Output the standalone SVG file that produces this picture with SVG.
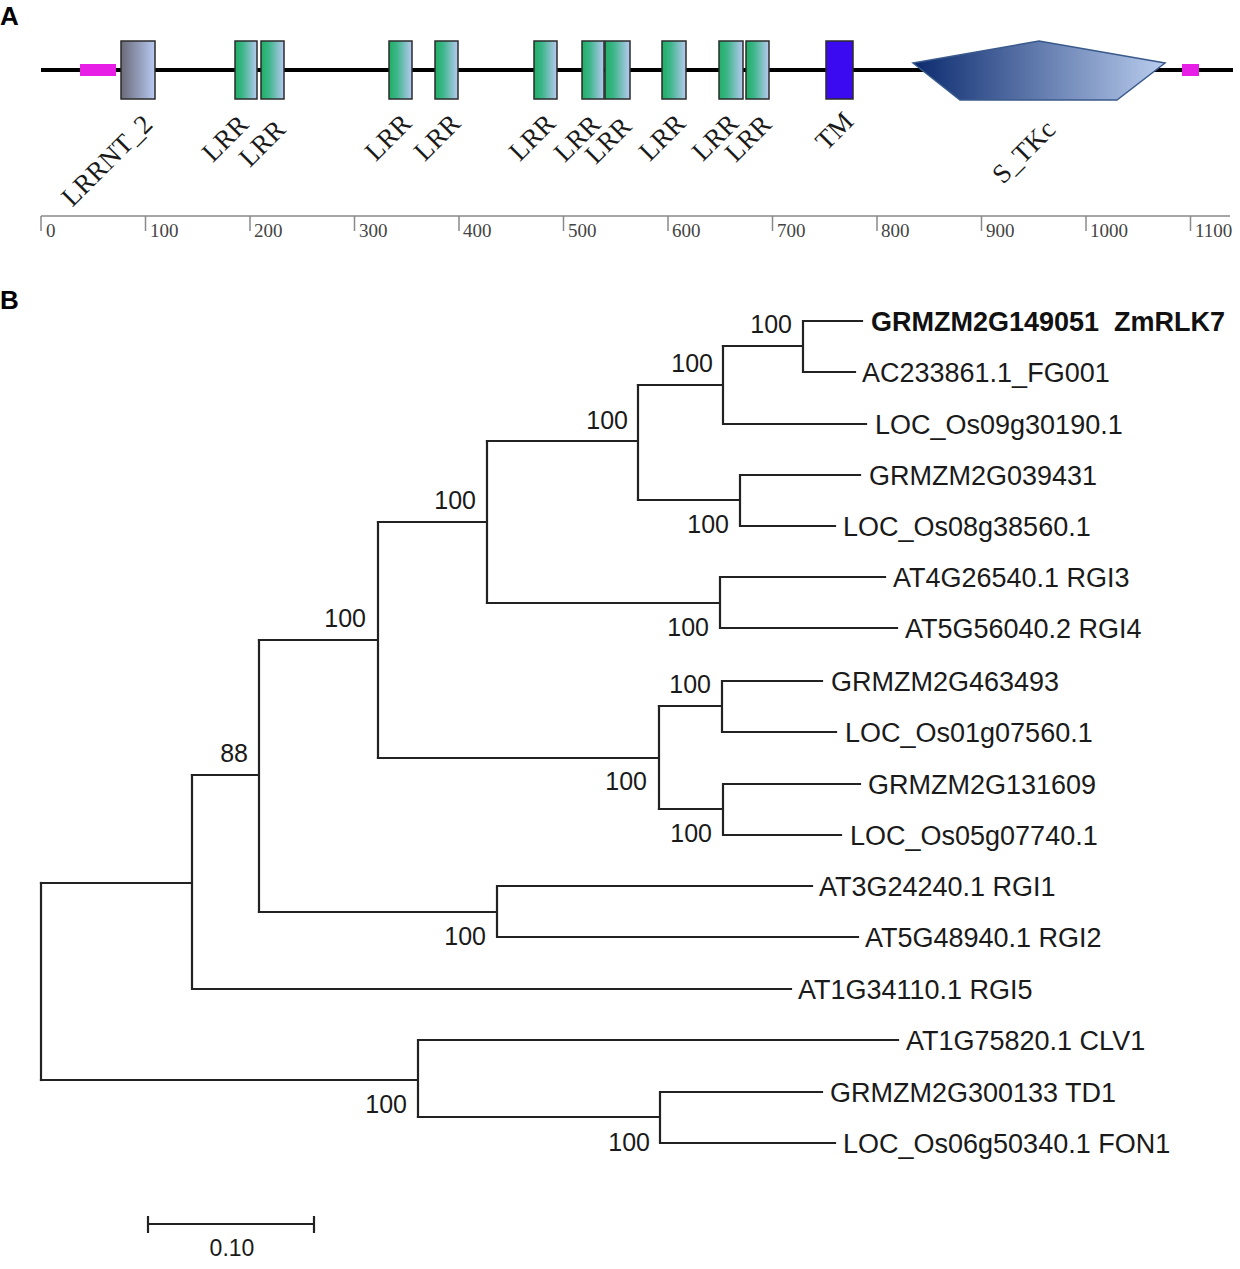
<svg xmlns="http://www.w3.org/2000/svg" width="1240" height="1269" viewBox="0 0 1240 1269">
<style>
.panel{font-family:"Liberation Sans",Arial,sans-serif;font-weight:bold;font-size:26px;fill:#000}
.dlab{font-family:"Liberation Serif","Times New Roman",serif;font-size:27px;fill:#1a1a1a;text-anchor:end}
.rlab{font-family:"Liberation Serif","Times New Roman",serif;font-size:19px;fill:#444}
.box{stroke:#2b2b2b;stroke-width:1.5}
.leaf{font-family:"Liberation Sans",Arial,sans-serif;font-size:27px;fill:#1a1a1a}
.bold{font-weight:bold;fill:#111}
.bs{font-family:"Liberation Sans",Arial,sans-serif;font-size:25px;fill:#1a1a1a;text-anchor:end}
.br{fill:none;stroke:#222;stroke-width:2.2;stroke-linecap:square}
</style>
<defs>
<linearGradient id="gLRR" x1="0" y1="0" x2="1" y2="0">
<stop offset="0" stop-color="#1fae64"/>
<stop offset="0.35" stop-color="#3db68a"/>
<stop offset="1" stop-color="#b8c9f2"/>
</linearGradient>
<linearGradient id="gNT" x1="0" y1="0" x2="1" y2="0">
<stop offset="0" stop-color="#6a6a78"/>
<stop offset="1" stop-color="#b8c9f2"/>
</linearGradient>
<linearGradient id="gKin" x1="0" y1="0" x2="1" y2="0">
<stop offset="0" stop-color="#0b2a6e"/>
<stop offset="1" stop-color="#bacdee"/>
</linearGradient>
</defs>
<rect width="1240" height="1269" fill="#fff"/>

<!-- Panel A -->
<text class="panel" x="0" y="25">A</text>
<g id="backbone">
<line x1="41" y1="70" x2="1233" y2="70" stroke="#000" stroke-width="4"/>
</g>
<g id="lowcomplex1"><rect x="80" y="64" width="36" height="12" fill="#e61ee6"/></g>
<g id="LRRNT_2"><rect class="box" x="121" y="41" width="34" height="58" fill="url(#gNT)"/>
<text class="dlab" transform="translate(154,126) rotate(-45)">LRRNT_2</text></g>
<g id="LRR1"><rect class="box" x="235" y="41" width="22" height="58" fill="url(#gLRR)"/>
<text class="dlab" transform="translate(250,126) rotate(-45)">LRR</text></g>
<g id="LRR2"><rect class="box" x="261" y="41" width="23" height="58" fill="url(#gLRR)"/>
<text class="dlab" transform="translate(287,131) rotate(-45)">LRR</text></g>
<g id="LRR3"><rect class="box" x="389" y="41" width="23" height="58" fill="url(#gLRR)"/>
<text class="dlab" transform="translate(413,125) rotate(-45)">LRR</text></g>
<g id="LRR4"><rect class="box" x="435" y="41" width="23" height="58" fill="url(#gLRR)"/>
<text class="dlab" transform="translate(462,125) rotate(-45)">LRR</text></g>
<g id="LRR5"><rect class="box" x="534" y="41" width="23" height="58" fill="url(#gLRR)"/>
<text class="dlab" transform="translate(557,125) rotate(-45)">LRR</text></g>
<g id="LRR6"><rect class="box" x="582" y="41" width="22" height="58" fill="url(#gLRR)"/>
<text class="dlab" transform="translate(602,126) rotate(-45)">LRR</text></g>
<g id="LRR7"><rect class="box" x="605" y="41" width="25" height="58" fill="url(#gLRR)"/>
<text class="dlab" transform="translate(633,128) rotate(-45)">LRR</text></g>
<g id="LRR8"><rect class="box" x="662" y="41" width="24" height="58" fill="url(#gLRR)"/>
<text class="dlab" transform="translate(687,125) rotate(-45)">LRR</text></g>
<g id="LRR9"><rect class="box" x="719" y="41" width="24" height="58" fill="url(#gLRR)"/>
<text class="dlab" transform="translate(740,125) rotate(-45)">LRR</text></g>
<g id="LRR10"><rect class="box" x="746" y="41" width="23" height="58" fill="url(#gLRR)"/>
<text class="dlab" transform="translate(773,126) rotate(-45)">LRR</text></g>
<g id="TM"><rect class="box" x="826" y="41" width="27" height="58" fill="#3b0af0"/>
<text class="dlab" transform="translate(855,123) rotate(-45)">TM</text></g>
<g id="S_TKc"><polygon points="913,63 1039,41 1165,63 1117,100 960,100" fill="url(#gKin)" stroke="#3a5a8c" stroke-width="1.5"/>
<text class="dlab" transform="translate(1057,131) rotate(-45)">S_TKc</text></g>
<g id="lowcomplex2"><rect x="1182" y="64" width="17" height="12" fill="#e61ee6"/></g>

<g id="ruler">
<path d="M41,216 H1230 M41,216 V231 M145.5,216 V231 M250,216 V231 M354.5,216 V231 M459,216 V231 M563.5,216 V231 M668,216 V231 M772.5,216 V231 M877,216 V231 M981.5,216 V231 M1086,216 V231 M1190.5,216 V231" stroke="#8a8a8a" stroke-width="1.5" fill="none"/>
<text class="rlab" x="46" y="237">0</text>
<text class="rlab" x="150" y="237">100</text>
<text class="rlab" x="254" y="237">200</text>
<text class="rlab" x="359" y="237">300</text>
<text class="rlab" x="463" y="237">400</text>
<text class="rlab" x="568" y="237">500</text>
<text class="rlab" x="672" y="237">600</text>
<text class="rlab" x="777" y="237">700</text>
<text class="rlab" x="881" y="237">800</text>
<text class="rlab" x="986" y="237">900</text>
<text class="rlab" x="1090" y="237">1000</text>
<text class="rlab" x="1195" y="237">1100</text>
</g>

<!-- Panel B -->
<text class="panel" x="0" y="309">B</text>

<g id="connectors">
<path class="br" d="M41,883 V1080"/>
<path class="br" d="M41,883 H192 V775 M192,883 V989 H791"/>
<path class="br" d="M192,775 H259 V640 M259,775 V912"/>
<path class="br" d="M259,640 H378 V522 M378,640 V758"/>
<path class="br" d="M378,522 H487 V441 M487,522 V603"/>
<path class="br" d="M487,441 H638 V385 M638,441 V500"/>
<path class="br" d="M638,385 H723 V346 M723,385 V424 H866"/>
<path class="br" d="M723,346 H803 V321 H862 M803,346 V372 H855"/>
<path class="br" d="M638,500 H740 V475 H860 M740,500 V526 H835"/>
<path class="br" d="M487,603 H720 V577 H885 M720,603 V628 H897"/>
<path class="br" d="M378,758 H659 V706 M659,758 V809"/>
<path class="br" d="M659,706 H722 V681 H822 M722,706 V732 H836"/>
<path class="br" d="M659,809 H723 V784 H860 M723,809 V835 H841"/>
<path class="br" d="M259,912 H497 V886 H812 M497,912 V937 H858"/>
<path class="br" d="M41,1080 H418 V1040 H898 M418,1080 V1117"/>
<path class="br" d="M418,1117 H660 V1092 H822 M660,1117 V1143 H835"/>
</g>

<g id="bootstrap">
<text class="bs" x="792" y="333">100</text>
<text class="bs" x="713" y="372">100</text>
<text class="bs" x="628" y="429">100</text>
<text class="bs" x="729" y="533">100</text>
<text class="bs" x="476" y="509">100</text>
<text class="bs" x="709" y="636">100</text>
<text class="bs" x="366" y="627">100</text>
<text class="bs" x="711" y="693">100</text>
<text class="bs" x="647" y="790">100</text>
<text class="bs" x="712" y="842">100</text>
<text class="bs" x="248" y="762">88</text>
<text class="bs" x="486" y="945">100</text>
<text class="bs" x="407" y="1113">100</text>
<text class="bs" x="650" y="1151">100</text>
</g>

<g id="leaf1"><text class="leaf bold" x="871" y="331" xml:space="preserve">GRMZM2G149051  ZmRLK7</text></g>
<g id="leaf2"><text class="leaf" x="862" y="382">AC233861.1_FG001</text></g>
<g id="leaf3"><text class="leaf" x="875" y="434">LOC_Os09g30190.1</text></g>
<g id="leaf4"><text class="leaf" x="869" y="485">GRMZM2G039431</text></g>
<g id="leaf5"><text class="leaf" x="843" y="536">LOC_Os08g38560.1</text></g>
<g id="leaf6"><text class="leaf" x="893" y="587">AT4G26540.1 RGI3</text></g>
<g id="leaf7"><text class="leaf" x="905" y="638">AT5G56040.2 RGI4</text></g>
<g id="leaf8"><text class="leaf" x="831" y="691">GRMZM2G463493</text></g>
<g id="leaf9"><text class="leaf" x="845" y="742">LOC_Os01g07560.1</text></g>
<g id="leaf10"><text class="leaf" x="868" y="794">GRMZM2G131609</text></g>
<g id="leaf11"><text class="leaf" x="850" y="845">LOC_Os05g07740.1</text></g>
<g id="leaf12"><text class="leaf" x="819" y="896">AT3G24240.1 RGI1</text></g>
<g id="leaf13"><text class="leaf" x="865" y="947">AT5G48940.1 RGI2</text></g>
<g id="leaf14"><text class="leaf" x="798" y="999">AT1G34110.1 RGI5</text></g>
<g id="leaf15"><text class="leaf" x="906" y="1050">AT1G75820.1 CLV1</text></g>
<g id="leaf16"><text class="leaf" x="830" y="1102">GRMZM2G300133 TD1</text></g>
<g id="leaf17"><text class="leaf" x="843" y="1153">LOC_Os06g50340.1 FON1</text></g>

<g id="scalebar">
<path d="M148,1224 H314 M148,1216 V1233 M314,1216 V1233" stroke="#222" stroke-width="2.2" fill="none"/>
<text x="232" y="1256" text-anchor="middle" font-family="Liberation Sans, Arial, sans-serif" font-size="23" fill="#1a1a1a">0.10</text>
</g>
</svg>
